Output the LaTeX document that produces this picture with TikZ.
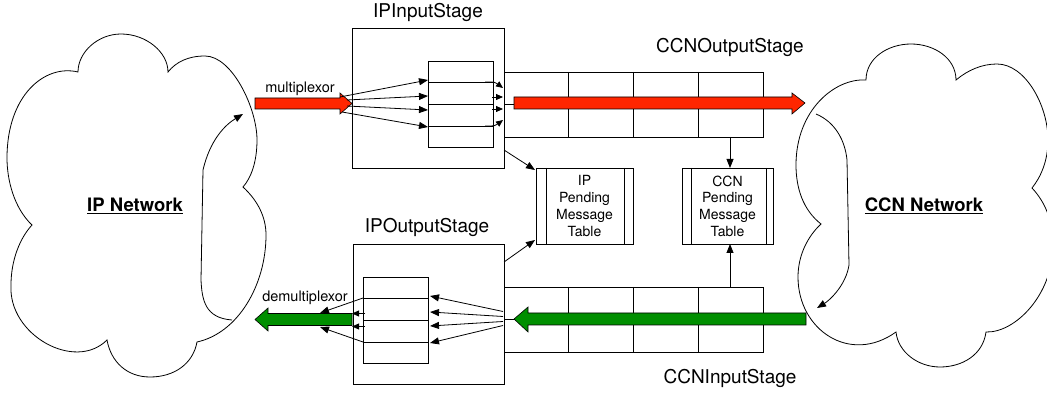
\documentclass[tikz,border=0pt]{standalone}
\usepackage{fontspec}
\setmainfont{TeX Gyre Heros}
\usetikzlibrary{arrows.meta,calc}
\definecolor{flowred}{RGB}{255,38,0}
\definecolor{flowgreen}{RGB}{0,143,0}
\begin{document}
\begin{tikzpicture}[x=1pt,y=-1pt,line width=0.8pt,
  tip/.style={-{Triangle[length=9pt,width=7pt]}},
  smalltip/.style={-{Triangle[length=7pt,width=6pt]}},
  box/.style={draw,inner sep=0pt,outer sep=0pt},
  stagetitle/.style={font=\fontsize{19}{22}\selectfont,anchor=base},
  flowlabel/.style={font=\fontsize{14.5}{17}\selectfont,anchor=base},
  netlabel/.style={font=\fontsize{18.5}{22}\selectfont\bfseries,anchor=base},
  tabletext/.style={box,align=center,font=\fontsize{14}{16.7}\selectfont},
  fat/.style={draw,line width=0.6pt}]
\useasboundingbox (0,0) rectangle (1047,395);

% ---- IP network cloud ----
\draw (78,72) .. controls (78,52) and (98,34) .. (121,34)
  .. controls (146,34) and (168,52) .. (168,72)
  .. controls (176,62) and (188,56) .. (205,56)
  .. controls (232,56) and (257,108) .. (257,140)
  .. controls (257,162) and (251,178) .. (243,187)
  .. controls (257,200) and (266,216) .. (266,235)
  .. controls (266,285) and (238,333) .. (197,342)
  .. controls (193,364) and (174,377) .. (150,377)
  .. controls (127,377) and (111,362) .. (107,340)
  .. controls (75,372) and (8,335) .. (11,285)
  .. controls (11,260) and (20,238) .. (32,225)
  .. controls (14,208) and (7,180) .. (7,158)
  .. controls (7,95) and (45,64) .. (78,72) -- cycle;

% ---- CCN network cloud ----
\draw (866,80) .. controls (866,58) and (888,44) .. (911,44)
  .. controls (934,44) and (956,58) .. (956,80)
  .. controls (968,70) and (982,64) .. (997,64)
  .. controls (1025,64) and (1048,105) .. (1048,140)
  .. controls (1048,162) and (1040,178) .. (1032,188)
  .. controls (1046,203) and (1053,222) .. (1053,245)
  .. controls (1053,295) and (1015,333) .. (986,332)
  .. controls (983,355) and (962,367) .. (940,367)
  .. controls (918,367) and (898,352) .. (896,332)
  .. controls (850,365) and (798,330) .. (798,277)
  .. controls (798,255) and (808,236) .. (821,224)
  .. controls (803,210) and (796,188) .. (796,165)
  .. controls (796,110) and (835,78) .. (866,80) -- cycle;

\node[netlabel] (ipnet) at (135,212) {\underline{IP Network}};
\node[netlabel] (ccnnet) at (924,212) {\underline{CCN Network}};

% traffic loops inside the networks
\draw[tip] (232,320) .. controls (205,318) and (202,300) .. (201,280)
  -- (203,170) .. controls (210,140) and (225,125) .. (243,114);
\draw[tip] (816,114) .. controls (835,122) and (845,140) .. (847,160)
  -- (849,265) .. controls (846,285) and (830,300) .. (817,308);

% ---- stage boxes ----
\node[box,minimum width=152pt,minimum height=140pt] (ipin) at (428,98) {};
\node[box,minimum width=151pt,minimum height=140pt] (ipout) at (428.5,314) {};
\node[stagetitle] (ipintitle) at (428,18) {IPInputStage};
\node[stagetitle] (ipouttitle) at (427,233) {IPOutputStage};

% queues inside the IP stages
\node[box,minimum width=65pt,minimum height=86pt] (qin) at (460.5,104) {};
\foreach \d in {21,43,65}
  \draw ($(qin.north west)+(0,\d)$) -- ($(qin.north east)+(0,\d)$);
\node[box,minimum width=65pt,minimum height=86pt] (qout) at (395.5,320) {};
\foreach \d in {21,43,65}
  \draw ($(qout.north west)+(0,\d)$) -- ($(qout.north east)+(0,\d)$);

% ---- CCN stage queues ----
\node[box,minimum width=259pt,minimum height=65pt] (ccnout) at (633.5,104.5) {};
\foreach \xx in {64,129,194}
  \draw ($(ccnout.north west)+(\xx,0)$) -- ($(ccnout.south west)+(\xx,0)$);
\draw (ccnout.west) -- (ccnout.east);
\node[box,minimum width=259pt,minimum height=65pt] (ccnin) at (633.5,319.5) {};
\foreach \xx in {64,129,194}
  \draw ($(ccnin.north west)+(\xx,0)$) -- ($(ccnin.south west)+(\xx,0)$);
\draw (ccnin.west) -- (ccnin.east);
\node[stagetitle] (ccnouttitle) at (730,52.5) {CCNOutputStage};
\node[stagetitle] (ccnintitle) at (730,383) {CCNInputStage};

% ---- pending message tables ----
\node[tabletext,minimum width=97pt,minimum height=76pt] (pmtip) at (584.5,206)
  {IP\\Pending\\Message\\Table};
\draw ($(pmtip.north west)+(10,0)$) -- ($(pmtip.south west)+(10,0)$);
\draw ($(pmtip.north east)+(-9,0)$) -- ($(pmtip.south east)+(-9,0)$);
\node[tabletext,minimum width=91pt,minimum height=76pt] (pmtccn) at (727.5,206)
  {CCN\\Pending\\Message\\Table};
\draw ($(pmtccn.north west)+(9,0)$) -- ($(pmtccn.south west)+(9,0)$);
\draw ($(pmtccn.north east)+(-7,0)$) -- ($(pmtccn.south east)+(-7,0)$);

% table lookups
\draw[tip] ($(ipin.south east)+(0,-18)$) -- ($(pmtip.north west)+(-1,2)$);
\draw[tip] ($(ipout.north east)+(0,18)$) -- ($(pmtip.south west)+(-1,-4)$);
\draw[tip] ($(ccnout.south west)+(226,0)$) -- ($(pmtccn.north west)+(48,0)$);
\draw[tip] ($(ccnin.north west)+(226,0)$) -- ($(pmtccn.south west)+(48,0)$);

% ---- main flows ----
\draw[fat,fill=flowred] (255,98) -- (340,98) -- (340,93) -- (352,103.5)
  -- (340,114) -- (340,109) -- (255,109) -- cycle;
\draw[fat,fill=flowred] (514,97) -- (792,97) -- (792,93) -- (805,103)
  -- (792,114) -- (792,109) -- (514,109) -- cycle;
\draw[fat,fill=flowgreen] (806,313) -- (528,313) -- (528,307) -- (514,319)
  -- (528,332) -- (528,325) -- (806,325) -- cycle;
\draw[fat,fill=flowgreen] (352,313.5) -- (268,313.5) -- (268,308) -- (255,319.5)
  -- (268,331) -- (268,325.5) -- (352,325.5) -- cycle;
\node[flowlabel] (muxlabel) at (300,92.5) {multiplexor};
\node[flowlabel] (demuxlabel) at (305,301.5) {demultiplexor};

% multiplexor fan into the IP input queue
\coordinate (mux) at (346,103);
\draw[tip] ($(mux)+(-6,-6)$) -- ($(qin.north west)+(0,19)$);
\draw[tip] ($(mux)+(1,-3)$) -- ($(qin.north west)+(0,35)$);
\draw[tip] ($(mux)+(1,3)$) -- ($(qin.north west)+(0,49)$);
\draw[tip] ($(mux)+(-4,9)$) -- ($(qin.north west)+(0,66)$);

% IP input queue into the CCN output queue
\draw[smalltip] ($(qin.north east)+(-8,21)$) .. controls ($(qin.north east)+(2,21)$) .. ($(ccnout.west)+(-1,-16.5)$);
\draw[smalltip] ($(ccnout.west)+(-12,-7.5)$) -- ($(ccnout.west)+(-1,-7.5)$);
\draw[smalltip] ($(ccnout.west)+(-12,4.5)$) -- ($(ccnout.west)+(-1,4.5)$);
\draw[smalltip] ($(qin.north east)+(-8,65)$) .. controls ($(qin.north east)+(2,65)$) .. ($(ccnout.west)+(-1,15.5)$);

% CCN input queue fan into the IP output queue
\draw[tip] ($(ccnin.west)+(-1,-8)$) -- ($(qout.north east)+(2,19)$);
\draw[tip] ($(ccnin.west)+(-1,-3)$) -- ($(qout.north east)+(2,35)$);
\draw[tip] ($(ccnin.west)+(-1,2)$) -- ($(qout.north east)+(2,49)$);
\draw[tip] ($(ccnin.west)+(-1,6)$) -- ($(qout.north east)+(2,66)$);

% demultiplexor fan out of the IP output queue
\coordinate (demux) at (330,319.5);
\draw[tip] ($(qout.north west)+(0,21)$) -- ($(demux)+(-10,-6.5)$);
\draw[tip] ($(qout.north west)+(0,65)$) -- ($(demux)+(-10,7.5)$);
\draw[smalltip] ($(qout.west)+(2,-6.5)$) -- ($(qout.west)+(-11,-6.5)$);
\draw[smalltip] ($(qout.west)+(2,6.5)$) -- ($(qout.west)+(-11,6.5)$);
\end{tikzpicture}
\end{document}
